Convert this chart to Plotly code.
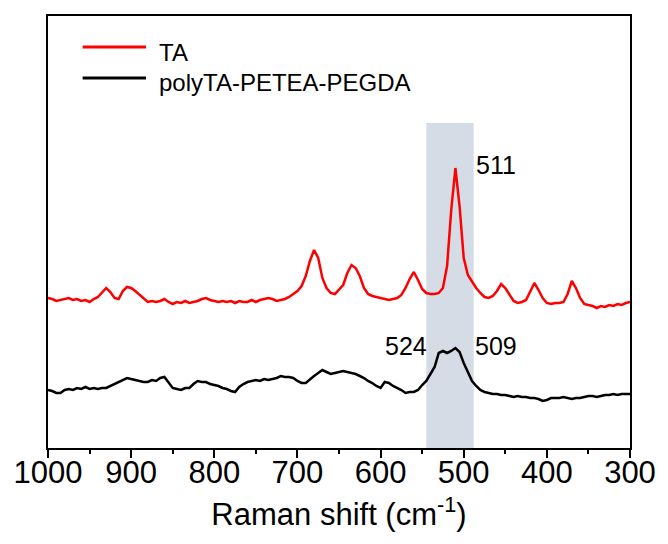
import plotly.graph_objects as go

# Raman shift axis (cm-1), 1000 -> 300, step 5
wavenumber = list(range(1000, 295, -5))

ta_intensity = [
    150, 149, 147, 148, 149, 150, 148, 149, 147, 148,  # 1000-955
    146, 149, 151, 156, 160, 156, 150, 149, 157, 161,  # 950-905
    160, 157, 153, 150, 146, 147, 146, 147, 149, 146,  # 900-855
    144, 146, 145, 147, 145, 146, 147, 149, 150, 148,  # 850-805
    147, 146, 147, 146, 147, 145, 147, 146, 146, 148,  # 800-755
    146, 148, 149, 150, 149, 147, 148, 149, 151, 154,  # 750-705
    157, 162, 172, 187, 198, 190, 170, 160, 155, 154,  # 700-655
    158, 163, 175, 183, 180, 172, 160, 154, 152, 151,  # 650-605
    150, 149, 148, 149, 150, 153, 160, 169, 176, 168,  # 600-555
    159, 155, 154, 154, 155, 160, 182, 238, 280, 242,  # 550-505
    190, 173, 166, 160, 155, 151, 150, 152, 157, 164,  # 500-455
    160, 153, 147, 145, 146, 148, 156, 165, 158, 150,  # 450-405
    145, 144, 145, 145, 146, 154, 167, 160, 150, 144,  # 400-355
    143, 142, 140, 142, 141, 143, 142, 144, 143, 145,  # 350-305
    146,                                               # 300
]

poly_intensity = [
    58, 57, 55, 55, 58, 59, 58, 60, 59, 61,   # 1000-955
    59, 60, 59, 60, 60, 62, 64, 66, 68, 70,   # 950-905
    69, 68, 67, 66, 66, 68, 67, 70, 71, 66,   # 900-855
    60, 59, 58, 60, 60, 64, 67, 66, 66, 64,   # 850-805
    63, 62, 60, 59, 57, 56, 61, 64, 66, 67,   # 800-755
    68, 67, 69, 68, 69, 70, 72, 71, 71, 70,   # 750-705
    67, 65, 65, 69, 72, 75, 78, 76, 74, 75,   # 700-655
    76, 77, 76, 75, 74, 72, 70, 67, 65, 62,   # 650-605
    60, 66, 65, 62, 60, 58, 55, 56, 56, 58,   # 600-555
    63, 67, 74, 81, 95, 97, 95, 97, 100, 96,  # 550-505
    85, 76, 67, 62, 58, 56, 55, 54, 54, 53,   # 500-455
    53, 52, 51, 52, 51, 51, 50, 50, 49, 47,   # 450-405
    48, 50, 50, 50, 51, 50, 49, 50, 50, 51,   # 400-355
    52, 52, 51, 52, 53, 53, 54, 53, 54, 54,   # 350-305
    54,                                       # 300
]

series_names = ["TA", "polyTA-PETEA-PEGDA"]
series_colors = ["#ff0000", "#000000"]
shade_range = [545, 488]
peak_labels = [("511", 511), ("524", 524), ("509", 509)]
x_ticks = [1000, 900, 800, 700, 600, 500, 400, 300]

FONT = "Arial, 'Liberation Sans', sans-serif"

# plot area geometry (pixels) for paper conversions
L, R, T, B = 48, 636, 16, 448
W, H = 668, 544
def px(x):
    return (x - L) / (R - L)
def py(y):
    return (B - y) / (B - T)

fig = go.Figure()

fig.add_shape(type="rect", xref="x", yref="y",
              x0=shade_range[0], x1=shade_range[1], y0=0, y1=325,
              fillcolor="rgb(213,220,230)", line=dict(width=0), layer="below")

for name, color, ys in zip(series_names, series_colors, [ta_intensity, poly_intensity]):
    fig.add_trace(go.Scatter(x=wavenumber, y=ys, mode="lines", name=name,
                             line=dict(color=color, width=2.5), showlegend=False))

# manual legend
legend_y = [47, 78]
for name, color, ly in zip(series_names, series_colors, legend_y):
    fig.add_shape(type="line", xref="paper", yref="paper",
                  x0=px(83), x1=px(147), y0=py(ly), y1=py(ly),
                  line=dict(color=color, width=3))
    fig.add_annotation(xref="paper", yref="paper", x=px(158), y=py(ly + 5),
                       text=name, showarrow=False, xanchor="left", yanchor="middle",
                       font=dict(family=FONT, size=24, color="#000000"))

# peak labels
label_pos = {"511": (478, 165, "left"), "524": (433, 346, "right"), "509": (477, 346, "left")}
for txt, wn in peak_labels:
    xp, yp, anc = label_pos[txt]
    fig.add_annotation(xref="paper", yref="paper", x=px(xp), y=py(yp), text=txt,
                       showarrow=False, xanchor=anc, yanchor="middle",
                       font=dict(family=FONT, size=25, color="#000000"))

fig.update_layout(
    width=W, height=H,
    margin=dict(l=L, r=W - R, t=T, b=H - B),
    paper_bgcolor="white", plot_bgcolor="white",
    font=dict(family=FONT, color="#000000"),
    showlegend=False,
)
fig.update_xaxes(
    range=[1000, 300], tickvals=x_ticks, ticktext=[str(v) for v in x_ticks],
    showline=True, linecolor="black", linewidth=2, mirror=True,
    ticks="outside", ticklen=8, tickwidth=2, tickcolor="black",
    ticklabelstandoff=-12,
    minor=dict(tickvals=[950, 850, 750, 650, 550, 450, 350], ticks="outside",
               ticklen=4, tickwidth=2, tickcolor="black"),
    tickfont=dict(family=FONT, size=31, color="black"),
    showgrid=False, zeroline=False,
    title=dict(text="Raman shift (cm<sup>-1</sup>)", font=dict(family=FONT, size=31, color="black"),
               standoff=14),
)
fig.update_yaxes(
    range=[0, 432], showline=True, linecolor="black", linewidth=2, mirror=True,
    ticks="", showticklabels=False, showgrid=False, zeroline=False,
)

fig.write_html("out.html")
